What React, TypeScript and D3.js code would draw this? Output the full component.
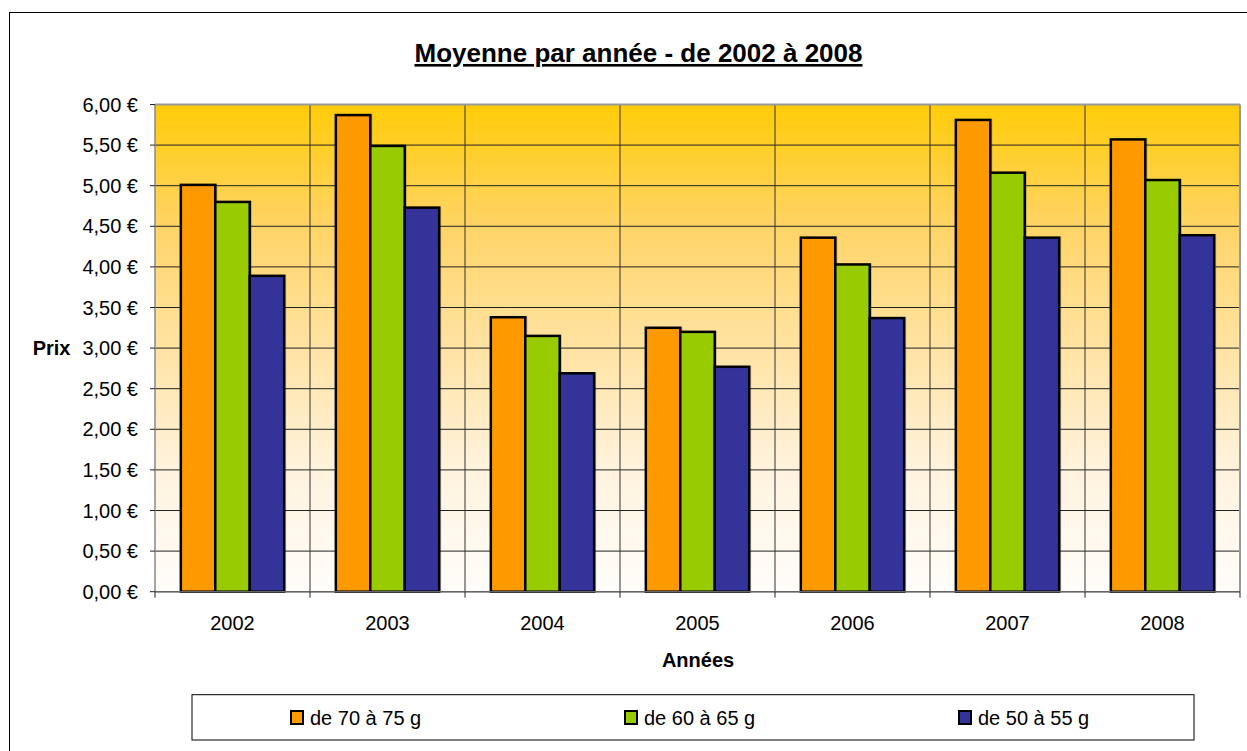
import React from "react";
import * as d3 from "d3";

const categories = ["2002", "2003", "2004", "2005", "2006", "2007", "2008"];
const seriesNames = ["de 70 à 75 g", "de 60 à 65 g", "de 50 à 55 g"];
const series70 = [5.01, 5.87, 3.38, 3.25, 4.36, 5.81, 5.57];
const series60 = [4.8, 5.49, 3.15, 3.2, 4.03, 5.16, 5.07];
const series50 = [3.89, 4.73, 2.69, 2.77, 3.37, 4.36, 4.39];
const yTicks = [0, 0.5, 1, 1.5, 2, 2.5, 3, 3.5, 4, 4.5, 5, 5.5, 6];
const colors = ["#FF9900", "#99CC00", "#333399"];
const title = "Moyenne par année - de 2002 à 2008";

const W = 1247;
const H = 751;
const PL = 155;
const PR = 1240;
const PT = 104.5;
const PB = 591.7;
const FONT = "Arial, 'Liberation Sans', Helvetica, sans-serif";

export default function App() {
  const allSeries = [series70, series60, series50];
  const x = d3.scaleBand<string>().domain(categories).range([PL, PR]).padding(0);
  const inner = d3
    .scaleBand<number>()
    .domain([0, 1, 2])
    .range([0, x.bandwidth()])
    .paddingInner(0)
    .paddingOuter(0.75);
  const y = d3.scaleLinear().domain([0, 6]).range([PB, PT]);
  const fmt = (v: number) => d3.format(".2f")(v).replace(".", ",") + " €";
  const boundaries = categories.map((c) => x(c) as number).concat([PR]);

  const legendX0 = 192;
  const legendX1 = 1194;
  const legendY0 = 694.7;
  const legendY1 = 740;
  const third = (legendX1 - legendX0) / 3;

  return (
    <div style={{ position: "absolute", left: 0, top: 0, width: W, height: H, background: "#fff" }}>
      <svg width={W} height={H} style={{ display: "block" }} fontFamily={FONT}>
        <defs>
          <linearGradient id="bg" x1="0" y1="0" x2="0" y2="1">
            <stop offset="0" stopColor="#FFCC08" />
            <stop offset="0.25" stopColor="#FFD466" />
            <stop offset="0.5" stopColor="#FFE3A3" />
            <stop offset="0.75" stopColor="#FFF3DE" />
            <stop offset="1" stopColor="#FFFDFA" />
          </linearGradient>
        </defs>
        <rect x={0} y={0} width={W} height={H} fill="#fff" />
        <rect x={9.5} y={12.5} width={W + 20} height={H + 20} fill="none" stroke="#000" strokeWidth={1} />

        <text
          x={638.5}
          y={62}
          textAnchor="middle"
          fontSize={26}
          fontWeight="bold"
          textDecoration="underline"
          style={{ textDecoration: "underline" }}
          fill="#000"
        >
          {title}
        </text>

        {/* plot background */}
        <rect x={PL} y={PT} width={PR - PL} height={PB - PT} fill="url(#bg)" />

        {/* horizontal gridlines */}
        {yTicks.map((t) => (
          <line key={"g" + t} x1={PL} x2={PR} y1={y(t)} y2={y(t)} stroke="#222" strokeWidth={1} />
        ))}
        {/* vertical category boundaries */}
        {boundaries.slice(1, -1).map((bx, i) => (
          <line key={"v" + i} x1={bx} x2={bx} y1={PT} y2={PB} stroke="#333" strokeWidth={1} />
        ))}
        {/* plot border top/right */}
        <line x1={PL} x2={PR} y1={PT} y2={PT} stroke="#999" strokeWidth={2} />
        <line x1={PR} x2={PR} y1={PT} y2={PB} stroke="#999" strokeWidth={2} />

        {/* bars */}
        {categories.map((c, ci) =>
          allSeries.map((s, si) => {
            const bx = (x(c) as number) + (inner(si) as number);
            const bw = inner.bandwidth();
            return (
              <g key={c + si}>
                <rect
                  x={bx + 2}
                  y={y(s[ci]) - 1}
                  width={bw}
                  height={PB - y(s[ci]) + 1}
                  fill="#000"
                  opacity={0.25}
                />
                <rect
                  x={bx}
                  y={y(s[ci])}
                  width={bw}
                  height={PB - y(s[ci])}
                  fill={colors[si]}
                  stroke="#000"
                  strokeWidth={2.5}
                />
              </g>
            );
          })
        )}

        {/* axes */}
        <line x1={PL} x2={PL} y1={PT} y2={PB} stroke="#888" strokeWidth={1.5} />
        <line x1={PL} x2={PR} y1={PB} y2={PB} stroke="#666" strokeWidth={1.5} />
        {yTicks.map((t) => (
          <g key={"yt" + t}>
            <line x1={PL - 5} x2={PL} y1={y(t)} y2={y(t)} stroke="#222" strokeWidth={1} />
            <text x={138} y={y(t)} dy="0.35em" textAnchor="end" fontSize={20} fill="#000">
              {fmt(t)}
            </text>
          </g>
        ))}
        {boundaries.map((bx, i) => (
          <line key={"xt" + i} x1={bx} x2={bx} y1={PB} y2={PB + 6} stroke="#222" strokeWidth={1} />
        ))}
        {categories.map((c) => (
          <text
            key={"xl" + c}
            x={(x(c) as number) + x.bandwidth() / 2}
            y={630}
            textAnchor="middle"
            fontSize={20}
            fill="#000"
          >
            {c}
          </text>
        ))}

        <text x={32.7} y={355} fontSize={20} fontWeight="bold" fill="#000">
          Prix
        </text>
        <text x={698} y={667} textAnchor="middle" fontSize={20} fontWeight="bold" fill="#000">
          Années
        </text>

        {/* legend */}
        <rect
          x={legendX0}
          y={legendY0}
          width={legendX1 - legendX0}
          height={legendY1 - legendY0}
          fill="#fff"
          stroke="#000"
          strokeWidth={1}
        />
        {seriesNames.map((n, i) => {
          const sx = legendX0 + third * i + 99;
          return (
            <g key={"lg" + i}>
              <rect x={sx} y={711} width={12} height={13} fill={colors[i]} stroke="#000" strokeWidth={2} />
              <text x={sx + 19} y={725} fontSize={20} fill="#000">
                {n}
              </text>
            </g>
          );
        })}
      </svg>
    </div>
  );
}
